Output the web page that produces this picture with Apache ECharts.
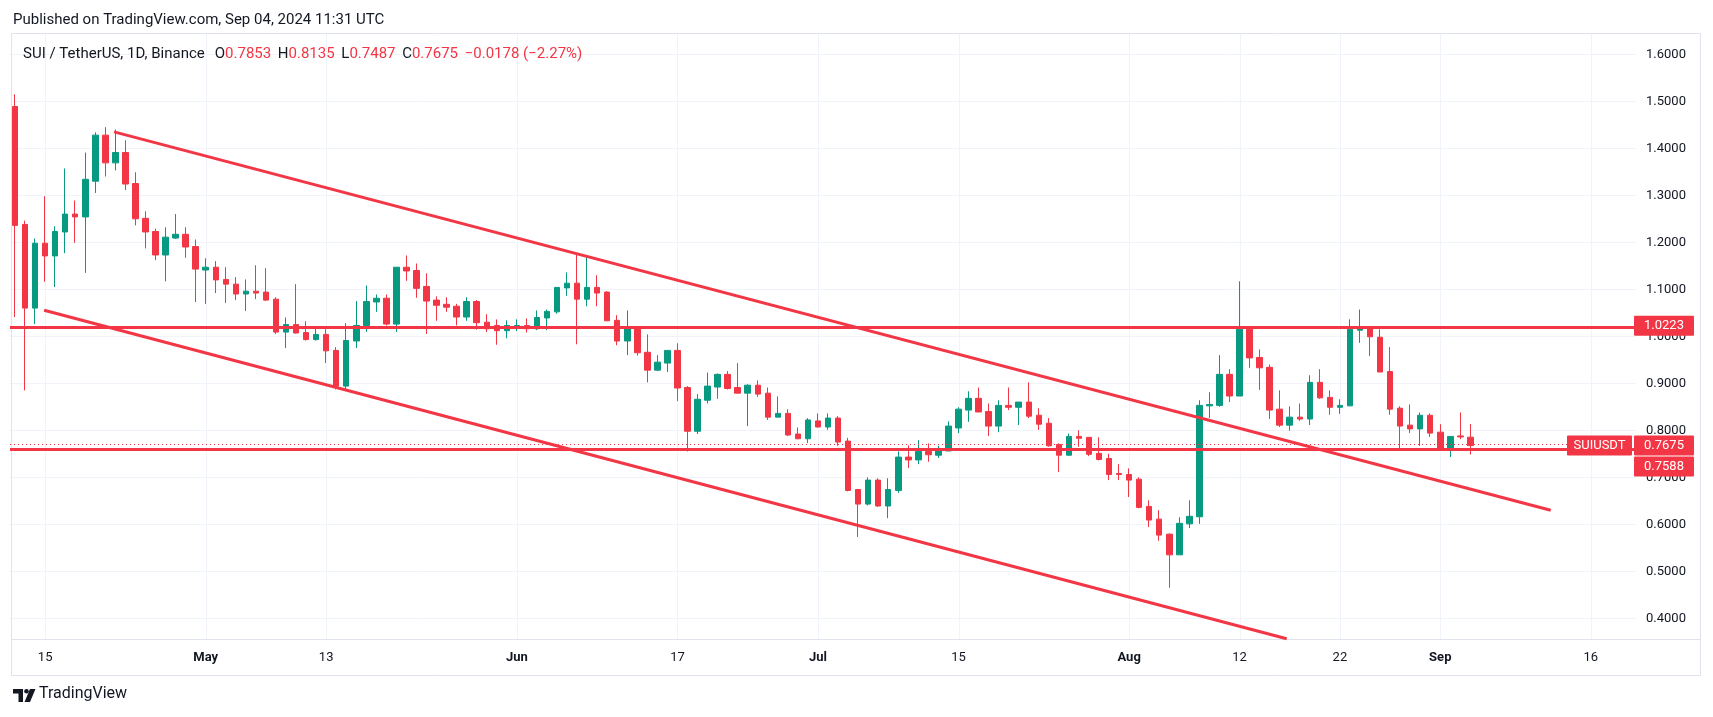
<!DOCTYPE html>
<html><head><meta charset="utf-8">
<script src="https://cdn.jsdelivr.net/npm/echarts@6/dist/echarts.min.js"></script>
<style>html,body{margin:0;padding:0;background:#fff}#c{width:1713px;height:717px}</style>
</head><body><div id="c"></div>
<script>
// ---- Data ----
const firstDay = '2024-04-12';
const dayCount = 162; // Apr 12 .. Sep 20 (future days keep empty space on the right)

const open  = [1.489,1.238,1.060,1.198,1.171,1.222,1.260,1.254,1.330,1.428,1.369,1.391,1.325,1.251,1.223,1.173,1.209,1.217,1.191,1.141,1.147,1.121,1.111,1.090,1.096,1.094,1.079,1.009,1.025,1.008,0.993,1.004,0.970,0.894,0.990,1.023,1.073,1.081,1.026,1.147,1.140,1.106,1.077,1.068,1.064,1.041,1.074,1.030,1.023,1.012,1.020,1.023,1.016,1.039,1.052,1.103,1.113,1.079,1.104,1.094,1.034,0.990,1.020,0.966,0.928,0.943,0.970,0.891,0.798,0.864,0.892,0.919,0.891,0.879,0.896,0.879,0.828,0.836,0.792,0.782,0.820,0.807,0.826,0.777,0.674,0.643,0.694,0.639,0.672,0.743,0.737,0.755,0.747,0.756,0.805,0.843,0.868,0.840,0.809,0.853,0.849,0.860,0.832,0.815,0.770,0.747,0.787,0.785,0.751,0.740,0.708,0.706,0.696,0.638,0.611,0.579,0.535,0.601,0.616,0.852,0.853,0.919,0.873,1.015,0.955,0.934,0.845,0.811,0.828,0.824,0.902,0.870,0.849,0.852,1.013,1.017,0.998,0.925,0.847,0.811,0.803,0.832,0.796,0.760,0.788,0.7853];
const close = [1.236,1.060,1.198,1.171,1.223,1.260,1.254,1.334,1.428,1.369,1.391,1.324,1.250,1.222,1.173,1.211,1.217,1.190,1.143,1.147,1.120,1.111,1.090,1.096,1.092,1.077,1.009,1.025,1.007,0.993,1.004,0.969,0.894,0.991,1.023,1.074,1.081,1.026,1.147,1.139,1.102,1.075,1.066,1.062,1.041,1.074,1.029,1.016,1.012,1.023,1.023,1.016,1.040,1.053,1.104,1.113,1.079,1.104,1.092,1.033,0.990,1.020,0.965,0.928,0.945,0.970,0.890,0.798,0.866,0.894,0.919,0.889,0.879,0.896,0.877,0.828,0.836,0.790,0.782,0.822,0.807,0.826,0.775,0.672,0.643,0.694,0.639,0.674,0.743,0.737,0.755,0.748,0.757,0.809,0.845,0.868,0.839,0.809,0.853,0.849,0.860,0.830,0.813,0.767,0.747,0.787,0.783,0.749,0.738,0.706,0.706,0.694,0.636,0.609,0.577,0.535,0.602,0.617,0.853,0.855,0.919,0.873,1.015,0.954,0.933,0.843,0.811,0.828,0.824,0.902,0.869,0.849,0.853,1.015,1.017,0.999,0.924,0.845,0.809,0.803,0.832,0.794,0.760,0.787,0.786,0.7675];
const low   = [1.041,0.885,1.026,1.116,1.105,1.177,1.199,1.135,1.305,1.340,1.353,1.311,1.236,1.187,1.162,1.117,1.207,1.167,1.073,1.069,1.092,1.071,1.077,1.054,1.079,1.075,1.005,0.975,1.006,0.991,0.991,0.943,0.887,0.887,0.975,1.009,1.052,1.023,1.009,1.118,1.082,1.005,1.033,1.052,1.023,1.033,1.014,1.009,0.982,0.996,1.011,1.008,1.013,1.013,1.048,1.086,0.983,1.064,1.064,1.033,0.981,0.960,0.959,0.902,0.926,0.924,0.862,0.755,0.792,0.857,0.867,0.887,0.879,0.809,0.871,0.822,0.828,0.788,0.781,0.773,0.806,0.801,0.767,0.670,0.573,0.640,0.637,0.613,0.667,0.720,0.728,0.733,0.741,0.756,0.794,0.818,0.839,0.788,0.796,0.843,0.811,0.826,0.801,0.765,0.711,0.747,0.765,0.745,0.736,0.694,0.694,0.658,0.634,0.594,0.565,0.465,0.535,0.592,0.601,0.826,0.850,0.860,0.873,0.933,0.886,0.824,0.807,0.799,0.820,0.811,0.867,0.833,0.835,0.852,0.986,0.958,0.924,0.833,0.760,0.794,0.767,0.786,0.760,0.743,0.781,0.7487];
const high  = [1.515,1.246,1.208,1.298,1.234,1.357,1.289,1.391,1.434,1.445,1.440,1.417,1.349,1.266,1.229,1.232,1.260,1.232,1.206,1.166,1.160,1.147,1.126,1.121,1.151,1.145,1.083,1.040,1.111,1.032,1.021,1.015,0.977,1.028,1.075,1.108,1.089,1.089,1.147,1.172,1.155,1.134,1.085,1.083,1.069,1.083,1.077,1.047,1.036,1.034,1.036,1.038,1.055,1.057,1.104,1.136,1.174,1.172,1.130,1.096,1.045,1.055,1.021,1.004,0.960,0.970,0.985,0.894,0.877,0.923,0.921,0.926,0.943,0.898,0.906,0.891,0.872,0.845,0.806,0.826,0.836,0.836,0.830,0.784,0.674,0.700,0.698,0.698,0.755,0.768,0.779,0.772,0.767,0.819,0.849,0.883,0.891,0.857,0.864,0.891,0.860,0.902,0.847,0.826,0.772,0.793,0.800,0.785,0.785,0.750,0.728,0.719,0.700,0.651,0.630,0.581,0.615,0.651,0.864,0.881,0.960,0.930,1.117,1.018,0.972,0.940,0.885,0.851,0.857,0.917,0.930,0.885,0.866,1.036,1.057,1.017,1.015,0.977,0.851,0.855,0.838,0.836,0.813,0.787,0.838,0.8135];

const tickDates  = ['2024-04-15','2024-05-01','2024-05-13','2024-06-01','2024-06-17','2024-07-01','2024-07-15','2024-08-01','2024-08-12','2024-08-22','2024-09-01','2024-09-16'];
const tickLabels = ['15','May','13','Jun','17','Jul','15','Aug','12','22','Sep','16'];
const monthTicks = ['May','Jun','Jul','Aug','Sep'];

// trend lines: [day index from Apr 12, price]
const upperChannel = [[9.87, 1.435], [153.0, 0.630]];
const lowerChannel = [[2.9, 1.0553], [126.7, 0.3565]];
const resistance = 1.0223;
const support = 0.7588;
const lastPrice = 0.7675;
const priceMin = 0.4, priceMax = 1.6, priceStep = 0.1;

// ---- Build ----
const dates = [];
const t0 = Date.parse(firstDay + 'T00:00:00Z');
for (let i = 0; i < dayCount; i++) dates.push(new Date(t0 + i * 864e5).toISOString().slice(0, 10));
const candleData = open.map((o, i) => [o, close[i], low[i], high[i]]);

const RED = '#F23645', GREEN = '#089981', GRID = '#f0f3fa', TXT = '#131722';
const chart = echarts.init(document.getElementById('c'), null, {renderer: 'canvas'});
const gridTop = 54.3, gridH = 564;

chart.setOption({
  animation: false,
  backgroundColor: '#ffffff',
  grid: {left: 10, top: gridTop, width: 1626, height: gridH, containLabel: false, outerBoundsMode: 'none'},
  xAxis: [{
    type: 'category', data: dates, boundaryGap: true,
    axisLine: {show: false}, axisTick: {show: false}, splitLine: {show: false},
    axisLabel: {
      interval: (idx, val) => tickDates.indexOf(val) >= 0,
      formatter: (val) => {
        const k = tickDates.indexOf(val); const s = tickLabels[k];
        return monthTicks.indexOf(s) >= 0 ? '{b|' + s + '}' : s;
      },
      color: TXT, fontSize: 13, fontFamily: 'Roboto', margin: 33,
      rich: {b: {fontWeight: 'bold', fontSize: 13, color: TXT, fontFamily: 'Roboto'}}
    }
  }, {
    type: 'value', min: -0.5, max: dayCount - 0.5, show: false
  }],
  yAxis: [{
    type: 'value', position: 'right', min: priceMin, max: priceMax, interval: priceStep,
    axisLine: {show: false}, axisTick: {show: false},
    splitLine: {show: true, lineStyle: {color: GRID, width: 1}},
    axisLabel: {formatter: v => v.toFixed(4), color: TXT, fontSize: 13, fontFamily: 'Roboto', margin: 30, align: 'center'}
  }],
  series: [{
    type: 'candlestick', data: candleData, xAxisIndex: 0, yAxisIndex: 0, barWidth: 6,
    itemStyle: {color: GREEN, color0: RED, borderColor: GREEN, borderColor0: RED, borderWidth: 1},
    markLine: {
      silent: true, symbol: ['none', 'none'], label: {show: false}, animation: false,
      data: [
        {yAxis: lastPrice, lineStyle: {color: RED, width: 1, type: [1, 3]}},
        {yAxis: resistance, lineStyle: {color: RED, width: 3, type: 'solid'}},
        {yAxis: support, lineStyle: {color: RED, width: 3, type: 'solid'}}
      ]
    }
  }, {
    type: 'line', xAxisIndex: 1, yAxisIndex: 0, data: upperChannel, symbol: 'none', clip: false,
    lineStyle: {color: RED, width: 3}, silent: true
  }, {
    type: 'line', xAxisIndex: 1, yAxisIndex: 0, data: lowerChannel, symbol: 'none', clip: false,
    lineStyle: {color: RED, width: 3}, silent: true
  }]
});

// ---- Annotations placed via the chart's own scales ----
const py = v => chart.convertToPixel({yAxisIndex: 0}, v);
const px = d => chart.convertToPixel({xAxisIndex: 0}, d);
const g = [];
// frame
g.push({type: 'rect', z: 0, silent: true, shape: {x: 11.5, y: 33.5, width: 1689, height: 642}, style: {fill: null, stroke: '#e0e3eb', lineWidth: 1}});
g.push({type: 'line', z: 0, silent: true, shape: {x1: 12, y1: 639.5, x2: 1700, y2: 639.5}, style: {stroke: '#e0e3eb', lineWidth: 1}});
// vertical grid lines at time ticks
tickDates.forEach(d => {
  const x = Math.round(px(d)) + 0.5;
  g.push({type: 'line', z: 0, silent: true, shape: {x1: x, y1: 34, x2: x, y2: 639}, style: {stroke: GRID, lineWidth: 1}});
});
// header texts
g.push({type: 'text', z: 10, left: 13, top: 13, style: {text: 'Published on TradingView.com, Sep 04, 2024 11:31 UTC', fill: TXT, font: '15px Roboto'}});
g.push({type: 'text', z: 10, left: 23, top: 47, style: {
  text: '{d|SUI / TetherUS, 1D, Binance}   {d|O}{r|0.7853}  {d|H}{r|0.8135}  {d|L}{r|0.7487}  {d|C}{r|0.7675}  {r|\u22120.0178 (\u22122.27%)}',
  rich: {d: {fill: TXT, font: '15px Roboto'}, r: {fill: RED, font: '15px Roboto'}}
}});
// price labels on the right scale
function box(x, yc, w, label) {
  g.push({type: 'rect', z: 50, silent: true, shape: {x: x, y: yc - 10, width: w, height: 20, r: 1}, style: {fill: RED}});
  g.push({type: 'text', z: 51, silent: true, x: x + w / 2, y: yc, style: {text: label, fill: '#fff', font: '13px Roboto', align: 'center', verticalAlign: 'middle'}});
}
box(1634, py(resistance), 60, resistance.toFixed(4));
box(1634, py(lastPrice), 60, lastPrice.toFixed(4));
box(1567, py(lastPrice), 65, 'SUIUSDT');
box(1634, py(lastPrice) + 21, 60, support.toFixed(4));
// TradingView footer
g.push({type: 'polygon', z: 10, shape: {points: [[13, 689], [23, 689], [23, 702], [18.5, 702], [18.5, 693.5], [13, 693.5]]}, style: {fill: TXT}});
g.push({type: 'circle', z: 10, shape: {cx: 26.5, cy: 691.3, r: 2.3}, style: {fill: TXT}});
g.push({type: 'polygon', z: 10, shape: {points: [[30, 689], [35.5, 689], [30, 702], [24.5, 702]]}, style: {fill: TXT}});
g.push({type: 'text', z: 10, left: 39, top: 686, style: {text: 'TradingView', fill: TXT, font: '16px Roboto'}});
chart.setOption({graphic: g});
</script></body></html>
